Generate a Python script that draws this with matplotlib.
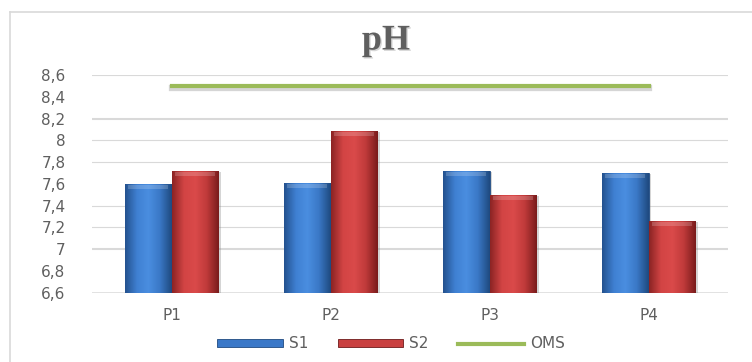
import numpy as np
import matplotlib
matplotlib.use("Agg")
import matplotlib.pyplot as plt
import matplotlib.patheffects as pe
from matplotlib.colors import LinearSegmentedColormap
from matplotlib.patches import Patch
from matplotlib.lines import Line2D

# pH per sampling point, two campaigns, plus the OMS guideline
points = ["P1", "P2", "P3", "P4"]
s1 = [7.60, 7.61, 7.72, 7.70]
s2 = [7.72, 8.09, 7.50, 7.26]
oms = [8.5, 8.5, 8.5, 8.5]

y_ticks = [6.6, 6.8, 7.0, 7.2, 7.4, 7.6, 7.8, 8.0, 8.2, 8.4, 8.6]
grid_thin = [7.2, 7.4, 7.8, 8.0, 8.6]
grid_thick = [7.0, 8.2]

BLUE = "#3a78c8"
RED = "#c94040"
GREEN = "#9bbb59"
GRID = "#d9d9d9"
TXT = "#5f5f5f"

blue_cmap = LinearSegmentedColormap.from_list(
    "b", ["#24528f", "#3f80d2", "#4a8ee0", "#3a78c6", "#1f4a80"])
red_cmap = LinearSegmentedColormap.from_list(
    "r", ["#8c2424", "#d24444", "#da4a4a", "#bf3a3a", "#7a1c1c"])

fig = plt.figure(figsize=(7.52, 3.62), dpi=100)
fig.patch.set_facecolor("white")
ax = fig.add_axes([92 / 752, 1 - 292.7 / 362, 636 / 752, 217.7 / 362])

# outer chart frame (top and left edges visible)
fig.add_artist(Line2D([10 / 752, 1.0], [1 - 12 / 362] * 2, color=GRID, lw=1.2,
                      transform=fig.transFigure))
fig.add_artist(Line2D([10 / 752] * 2, [0, 1 - 12 / 362], color=GRID, lw=1.2,
                      transform=fig.transFigure))

x = np.arange(len(points))
w = 0.295
base = 6.6

for g in grid_thin:
    ax.axhline(g, color=GRID, lw=0.8, zorder=0)
for g in grid_thick:
    ax.axhline(g, color=GRID, lw=1.5, zorder=0)
ax.axhline(base, color=GRID, lw=1.8, zorder=1)

shadow = [pe.SimplePatchShadow(offset=(2, -1), shadow_rgbFace="#888888", alpha=0.35),
          pe.Normal()]
b1 = ax.bar(x - w / 2, np.array(s1) - base, w, bottom=base, color=BLUE,
            edgecolor="#1f4a80", lw=0.6, zorder=2, path_effects=shadow)
b2 = ax.bar(x + w / 2, np.array(s2) - base, w, bottom=base, color=RED,
            edgecolor="#6e1a1a", lw=0.6, zorder=2, path_effects=shadow)

# horizontal bevel shading, clipped to each bar
grad = np.linspace(0, 1, 64).reshape(1, -1)
for bars, cmap in ((b1, blue_cmap), (b2, red_cmap)):
    for r in bars:
        x0, y0 = r.get_x(), r.get_y()
        im = ax.imshow(grad, cmap=cmap, aspect="auto", zorder=2.5,
                       extent=(x0, x0 + r.get_width(), y0, y0 + r.get_height()))
        im.set_clip_path(r)
        # light strip along the top edge
        top = r.get_y() + r.get_height()
        ax.fill_between([x0 + 0.02, x0 + r.get_width() - 0.02], top - 0.05, top - 0.01,
                        color="white", alpha=0.18, lw=0, zorder=2.6)

ax.plot(x, oms, color=GREEN, lw=3, solid_capstyle="projecting", zorder=3,
        path_effects=[pe.SimpleLineShadow(offset=(0.5, -1.8), shadow_color="#888888",
                                          alpha=0.35, linewidth=4.5), pe.Normal()])

ax.set_xlim(-0.5, len(points) - 0.5)
ax.set_ylim(6.6, 8.6)
ax.set_yticks(y_ticks)
ax.set_yticklabels([("%g" % v).replace(".", ",") for v in y_ticks])
ax.set_xticks(x)
ax.set_xticklabels(points)
ax.tick_params(axis="y", length=0, pad=19, labelsize=11, labelcolor=TXT)
ax.tick_params(axis="x", length=0, pad=11, labelsize=11, labelcolor=TXT)
for s in ax.spines.values():
    s.set_visible(False)
ax.set_facecolor("none")

fig.text(386 / 752, 1 - 41 / 362, "pH", ha="center", va="center",
         fontsize=26, fontweight="bold", family="Liberation Serif", color=TXT,
         path_effects=[pe.withSimplePatchShadow(offset=(1, -1), shadow_rgbFace="#bbbbbb",
                                                alpha=0.6)])

handles = [Patch(facecolor=BLUE, edgecolor="#1f4a80", lw=0.6),
           Patch(facecolor=RED, edgecolor="#6e1a1a", lw=0.6),
           Line2D([0], [0], color=GREEN, lw=3)]
leg = fig.legend(handles, ["S1", "S2", "OMS"], loc="center",
                 bbox_to_anchor=(391 / 752, 1 - 344 / 362), ncol=3, frameon=False,
                 fontsize=11, handlelength=4.3, handleheight=0.45,
                 handletextpad=0.4, columnspacing=1.9)
for t in leg.get_texts():
    t.set_color(TXT)

fig.savefig("out.png", dpi=100, facecolor="white")
